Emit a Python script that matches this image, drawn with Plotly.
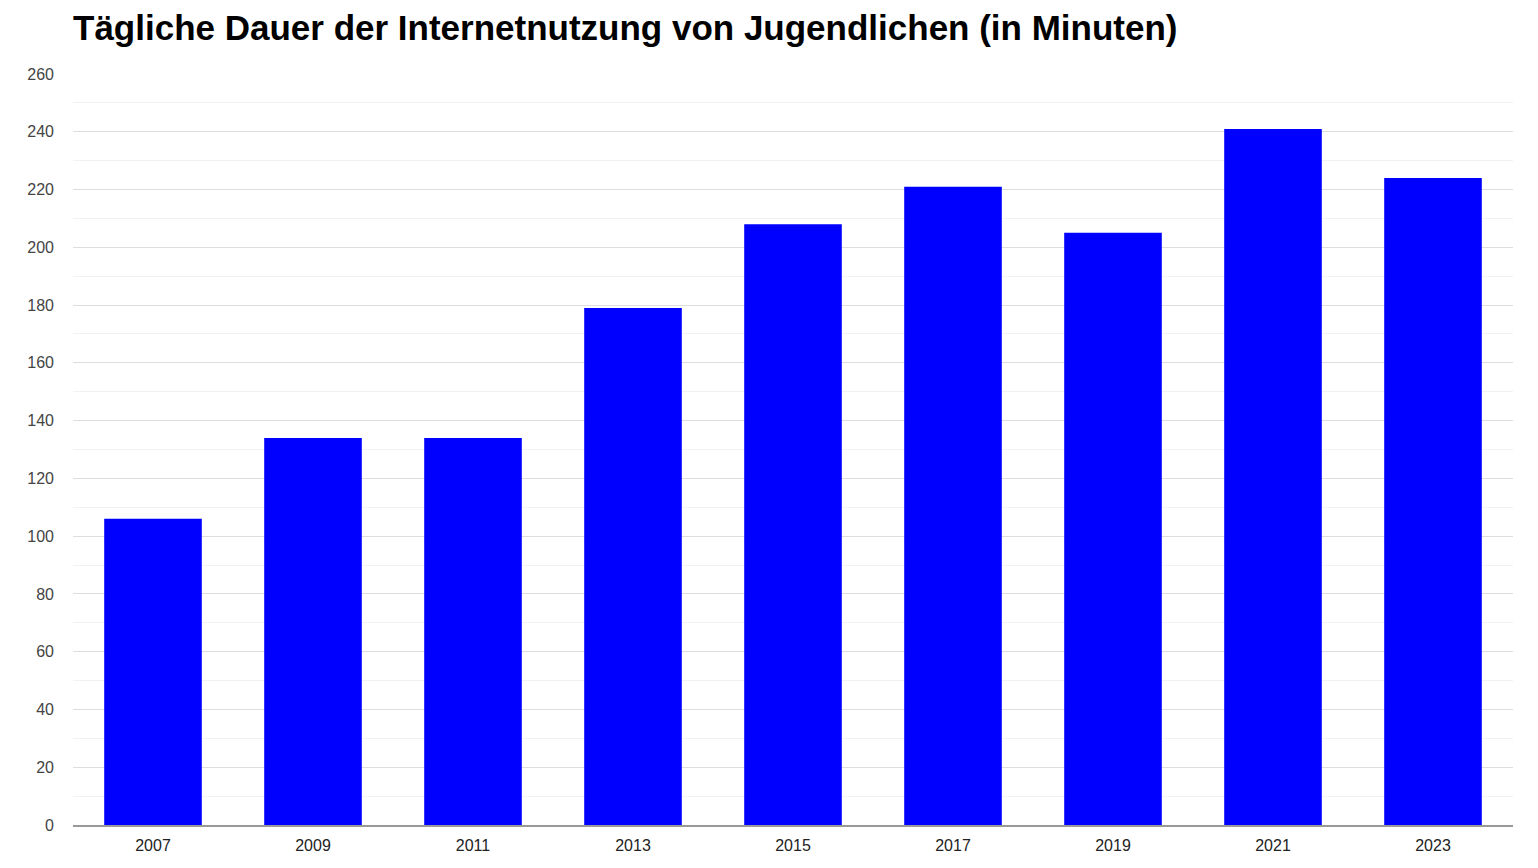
import plotly.graph_objects as go

years = ["2007", "2009", "2011", "2013", "2015", "2017", "2019", "2021", "2023"]
minutes = [106, 134, 134, 179, 208, 221, 205, 241, 224]

W, H = 1538, 868
OFF = 8  # page body margin in the browser

fig = go.Figure()
fig.add_trace(go.Bar(x=years, y=minutes, marker_color="#0000ff", marker_line_width=0,
                     hoverinfo="x+y"))

fig.update_layout(
    width=W, height=H,
    title=dict(text="<b>Tägliche Dauer der Internetnutzung von Jugendlichen (in Minuten)</b>",
               x=(73 - OFF) / W, xanchor="left", y=1 - (28 - OFF) / H, yanchor="middle",
               font=dict(family="Liberation Sans, Arial", size=35, color="#000000")),
    font=dict(family="Liberation Sans, Arial", size=16, color="#444444"),
    margin=dict(l=73 - OFF, r=W - 1513 + OFF, t=74 - OFF, b=H - 825 + OFF),
    plot_bgcolor="white", paper_bgcolor="white",
    bargap=0.39, showlegend=False,
)
fig.update_xaxes(type="category", showgrid=False, ticks="", tickfont=dict(size=16, color="#222222"),
                 ticklabelstandoff=5, showline=True, linecolor="#999999", linewidth=2)
fig.update_yaxes(range=[0, 260], dtick=20, showgrid=True, gridcolor="#dddddd", gridwidth=1,
                 minor=dict(dtick=10, showgrid=True, gridcolor="#f2f2f2", gridwidth=1),
                 zeroline=False, ticks="", ticklabelstandoff=18, tickfont=dict(size=16, color="#444444"))

fig.write_html("out.html")
